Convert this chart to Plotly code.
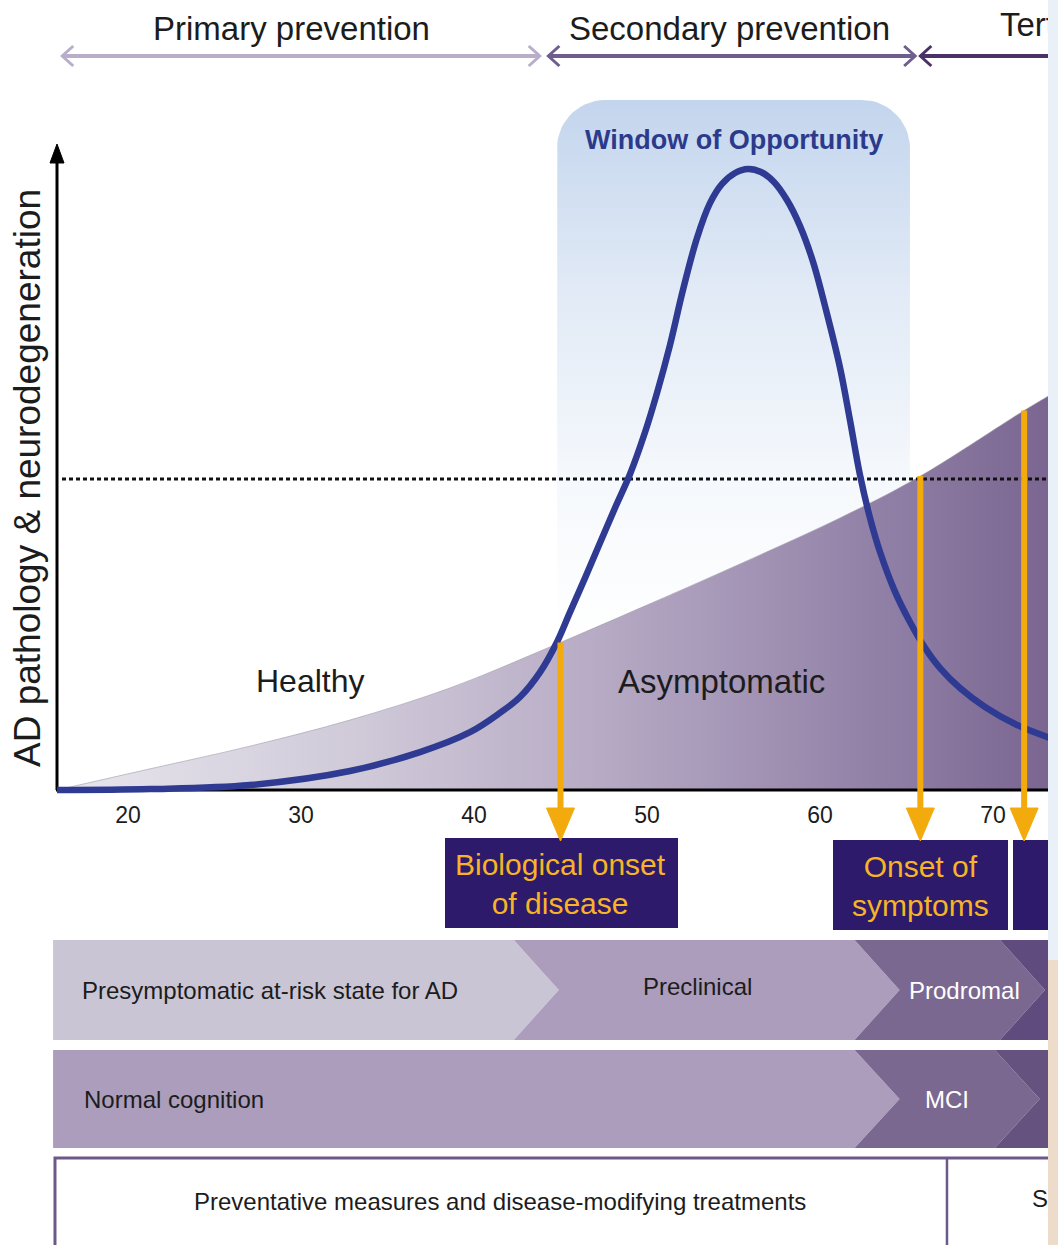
import numpy as np
import plotly.graph_objects as go

# ---------------- data ----------------
AGE_TICKS = [20, 30, 40, 50, 60, 70]

# blue curve (window of opportunity), level relative to threshold = 1
CURVE_AGE = [15.90, 21.27, 27.05, 32.83, 36.88, 39.77, 41.50, 42.66, 43.82, 44.80,
             45.55, 46.42, 47.28, 48.15, 49.02, 49.89, 50.58, 51.33, 52.08, 52.89,
             53.64, 54.34, 55.09, 55.84, 56.59, 57.34, 58.09, 58.84, 59.60, 60.35,
             61.16, 61.73, 62.31, 62.89, 63.47, 64.34, 65.20, 66.07, 66.94, 68.09,
             69.54, 71.39, 73.30]
CURVE_VAL = [0.000, 0.003, 0.016, 0.061, 0.122, 0.186, 0.248, 0.299, 0.379, 0.476,
             0.572, 0.682, 0.794, 0.907, 1.016, 1.151, 1.277, 1.431, 1.608, 1.775,
             1.887, 1.949, 1.984, 1.997, 1.987, 1.955, 1.897, 1.814, 1.698, 1.543,
             1.357, 1.190, 1.013, 0.875, 0.765, 0.637, 0.540, 0.457, 0.392, 0.328,
             0.267, 0.209, 0.167]

# AD pathology & neurodegeneration (purple area)
PATH_AGE = [15.90, 21.27, 27.05, 32.83, 38.61, 44.39, 49.60, 55.38, 61.16, 65.61, 71.85, 73.30]
PATH_VAL = [0.000, 0.068, 0.141, 0.225, 0.328, 0.460, 0.585, 0.727, 0.875, 1.003, 1.222, 1.270]

THRESHOLD = 1.0

EVENT_AGES = [45.0, 65.8, 71.8]
EVENT_LABELS = ["Biological onset<br>of disease", "Onset of<br>symptoms", ""]

PHASES = ["Primary prevention", "Secondary prevention", "Tertiary prevention"]
PHASE_START = [16.2, 44.3, 65.8]
PHASE_END = [43.8, 65.5, 76.0]

ROW1_LABELS = ["Presymptomatic at-risk state for AD", "Preclinical", "Prodromal", ""]
ROW1_EDGES = [15.67, 44.9, 64.6, 73.0, 77.0]
ROW2_LABELS = ["Normal cognition", "MCI", ""]
ROW2_EDGES = [15.67, 64.6, 72.7, 77.0]
ROW3_LABELS = ["Preventative measures and disease-modifying treatments", "Symptomatic treatments"]
ROW3_EDGES = [15.78, 67.34, 77.0]

WINDOW_START, WINDOW_END = 44.8, 65.2

# ---------------- geometry helpers (layout only) ----------------
W, H = 1058, 1245
PX_PER_YEAR = 17.3
AGE_AT_PX0 = 20 - 128 / PX_PER_YEAR
BASE_PY = 790
PX_PER_UNIT = 311.0
CLIP_PX = 1048


def ax(px):
    return AGE_AT_PX0 + px / PX_PER_YEAR


def ly(py):
    return (BASE_PY - py) / PX_PER_UNIT


FONT = "Liberation Sans, Arial, sans-serif"
TXT = "#1c1c1c"

fig = go.Figure()

# window of opportunity box (rounded top corners, vertical gradient)
rx, ry = 48 / PX_PER_YEAR, 48 / PX_PER_UNIT
top = ly(100)
tl = np.linspace(np.pi, np.pi / 2, 16)
tr = np.linspace(np.pi / 2, 0, 16)
wx = ([WINDOW_START, WINDOW_START] + list(WINDOW_START + rx + rx * np.cos(tl)) +
      list(WINDOW_END - rx + rx * np.cos(tr)) + [WINDOW_END, WINDOW_END])
wy = ([0, top - ry] + list(top - ry + ry * np.sin(tl)) +
      list(top - ry + ry * np.sin(tr)) + [top - ry, 0])
fig.add_trace(go.Scatter(
    x=wx, y=wy, mode="lines", fill="toself", line=dict(width=0),
    fillgradient=dict(type="vertical",
                      colorscale=[[0, "#ffffff"], [0.3, "#f5f8fc"], [0.65, "#e1eaf6"], [1, "#c3d5ed"]],
                      start=ly(640), stop=top),
    hoverinfo="skip", showlegend=False))

# pathology area
fig.add_trace(go.Scatter(
    x=PATH_AGE, y=PATH_VAL, mode="lines", fill="tozeroy",
    line=dict(color="rgba(160,155,170,0.6)", width=1, shape="spline", smoothing=1.0),
    fillgradient=dict(type="horizontal",
                      colorscale=[[0, "#e8e6ed"], [0.3, "#d0cad9"], [0.5, "#bcb1c9"],
                                  [0.7, "#a394b5"], [0.85, "#8e7da4"], [1, "#7a6691"]],
                      start=ax(57), stop=ax(1048)),
    hoverinfo="skip", showlegend=False))

# threshold dotted line
fig.add_trace(go.Scatter(
    x=[ax(62), ax(1070)], y=[THRESHOLD, THRESHOLD], mode="lines",
    line=dict(color="#111111", width=3, dash="4px,3px"),
    hoverinfo="skip", showlegend=False))

# axis lines
fig.add_trace(go.Scatter(x=[ax(56), ax(1070)], y=[0, 0], mode="lines",
                         line=dict(color="black", width=3), hoverinfo="skip", showlegend=False))
fig.add_trace(go.Scatter(x=[ax(57), ax(57)], y=[0, ly(158)], mode="lines",
                         line=dict(color="black", width=3), hoverinfo="skip", showlegend=False))
hw = 7 / PX_PER_YEAR
fig.add_trace(go.Scatter(x=[ax(57) - hw, ax(57), ax(57) + hw, ax(57) - hw],
                         y=[ly(163), ly(144), ly(163), ly(163)], mode="lines", fill="toself",
                         fillcolor="black", line=dict(color="black", width=1),
                         hoverinfo="skip", showlegend=False))

# blue curve
fig.add_trace(go.Scatter(
    x=CURVE_AGE, y=CURVE_VAL, mode="lines",
    line=dict(color="#2f3b92", width=6.5, shape="spline", smoothing=1.0),
    hoverinfo="skip", showlegend=False))

# event arrows
ORANGE = "#f3aa0c"
ahw = 14 / PX_PER_YEAR
for e in EVENT_AGES:
    y_top = float(np.interp(e, PATH_AGE, PATH_VAL))
    fig.add_trace(go.Scatter(x=[e, e], y=[y_top, ly(812)], mode="lines",
                             line=dict(color=ORANGE, width=6), hoverinfo="skip", showlegend=False))
    fig.add_trace(go.Scatter(x=[e - ahw, e + ahw, e, e - ahw], y=[ly(808), ly(808), ly(841), ly(808)],
                             mode="lines", fill="toself", fillcolor=ORANGE,
                             line=dict(color=ORANGE, width=1), hoverinfo="skip", showlegend=False))

# texts cut by the right edge of the original picture
fig.add_trace(go.Scatter(x=[ax(1000)], y=[ly(28)], mode="text", text=[PHASES[2]],
                         textposition="middle right",
                         textfont=dict(family=FONT, size=33, color=TXT),
                         hoverinfo="skip", showlegend=False, cliponaxis=True))
fig.add_trace(go.Scatter(x=[ax(1032)], y=[ly(1201)], mode="text", text=[ROW3_LABELS[1]],
                         textposition="middle right",
                         textfont=dict(family=FONT, size=24, color=TXT),
                         hoverinfo="skip", showlegend=False, cliponaxis=True))

shapes = []
annotations = []

# prevention arrows
PHASE_COLORS = ["#b8aeca", "#6f5d8d", "#4a3268"]
ay = ly(56)
dx, dy = 11 / PX_PER_YEAR, 10 / PX_PER_UNIT
for s, e, c in zip(PHASE_START, PHASE_END, PHASE_COLORS):
    shapes.append(dict(type="line", xref="x", yref="y", x0=s, x1=e, y0=ay, y1=ay,
                       line=dict(color=c, width=4), layer="above"))
    shapes.append(dict(type="path", xref="x", yref="y",
                       path=f"M {s+dx},{ay+dy} L {s},{ay} L {s+dx},{ay-dy}",
                       line=dict(color=c, width=3), layer="above"))
    shapes.append(dict(type="path", xref="x", yref="y",
                       path=f"M {e-dx},{ay+dy} L {e},{ay} L {e-dx},{ay-dy}",
                       line=dict(color=c, width=3), layer="above"))
for label, px in zip(PHASES[:2], [291, 729]):
    annotations.append(dict(x=ax(px), y=ly(28), text=label, showarrow=False,
                            font=dict(family=FONT, size=33, color=TXT)))

# event label boxes
EVENT_BOX_PX = [(445, 678, 838, 928), (833, 1008, 840, 930), (1013, 1120, 840, 930)]
for (x0, x1, y0, y1), lab, e in zip(EVENT_BOX_PX, EVENT_LABELS, EVENT_AGES):
    shapes.append(dict(type="rect", xref="x", yref="y", x0=ax(x0), x1=ax(x1), y0=ly(y1), y1=ly(y0),
                       fillcolor="#2d1a6b", line=dict(width=0), layer="below"))
    if lab:
        annotations.append(dict(x=e, y=ly((y0 + y1) / 2 + 1), text=lab, showarrow=False,
                                font=dict(family=FONT, size=30, color="#f6b426")))


def chevron_rows(edges, colors, ytop, ybot, depth=2.6):
    ym = (ytop + ybot) / 2
    out = []
    n = len(edges) - 1
    for i in range(n):
        lt, rt = edges[i], edges[i + 1]
        lb = lt if i == 0 else lt - depth
        ln = lt
        rb = rt if i == n - 1 else rt - depth
        path = (f"M {lb},{ytop} L {rb},{ytop} L {rt},{ym} L {rb},{ybot} "
                f"L {lb},{ybot} L {ln},{ym} Z")
        out.append(dict(type="path", xref="x", yref="y", path=path,
                        fillcolor=colors[i], line=dict(width=0), layer="below"))
    return out


shapes += chevron_rows(ROW1_EDGES, ["#cac5d4", "#ab9dbb", "#7b6891", "#5f4b7d"], ly(940), ly(1040))
shapes += chevron_rows(ROW2_EDGES, ["#ab9dbb", "#7b6891", "#66527f"], ly(1050), ly(1148))

ROW1_TEXT = [(80, 990, "left", TXT), (697, 986, "center", TXT), (964, 990, "center", "white")]
for lab, (px, py, anc, col) in zip(ROW1_LABELS, ROW1_TEXT):
    annotations.append(dict(x=ax(px), y=ly(py), text=lab, showarrow=False, xanchor=anc,
                            font=dict(family=FONT, size=24, color=col)))
ROW2_TEXT = [(82, 1099, "left", TXT), (947, 1099, "center", "white")]
for lab, (px, py, anc, col) in zip(ROW2_LABELS, ROW2_TEXT):
    annotations.append(dict(x=ax(px), y=ly(py), text=lab, showarrow=False, xanchor=anc,
                            font=dict(family=FONT, size=24, color=col)))

# row 3 box
shapes.append(dict(type="rect", xref="x", yref="y", x0=ROW3_EDGES[0], x1=ROW3_EDGES[2],
                   y0=ly(1262), y1=ly(1158), line=dict(color="#6c5889", width=3),
                   fillcolor="rgba(0,0,0,0)", layer="below"))
shapes.append(dict(type="line", xref="x", yref="y", x0=ROW3_EDGES[1], x1=ROW3_EDGES[1],
                   y0=ly(1262), y1=ly(1158), line=dict(color="#6c5889", width=2.5), layer="below"))
annotations.append(dict(x=ax(500), y=ly(1201), text=ROW3_LABELS[0], showarrow=False,
                        font=dict(family=FONT, size=24, color=TXT)))

# chart texts
annotations.append(dict(x=ax(734), y=ly(140), text="<b>Window of Opportunity</b>", showarrow=False,
                        font=dict(family=FONT, size=27, color="#2c3a8c")))
annotations.append(dict(x=ax(310), y=ly(681), text="Healthy", showarrow=False,
                        font=dict(family=FONT, size=32, color=TXT)))
annotations.append(dict(x=ax(721), y=ly(681), text="Asymptomatic", showarrow=False,
                        font=dict(family=FONT, size=33, color=TXT)))
annotations.append(dict(x=ax(27), y=ly(478), text="AD pathology &amp; neurodegeneration",
                        showarrow=False, textangle=-90,
                        font=dict(family=FONT, size=37, color=TXT)))

# right strip (cropped edge of the original picture)
shapes.append(dict(type="rect", xref="paper", yref="paper", x0=CLIP_PX / W, x1=1,
                   y0=(H - 960) / H, y1=1, fillcolor="#e9f0f8", line=dict(width=0), layer="above"))
shapes.append(dict(type="rect", xref="paper", yref="paper", x0=CLIP_PX / W, x1=1,
                   y0=0, y1=(H - 960) / H, fillcolor="#ecdcc9", line=dict(width=0), layer="above"))

fig.update_layout(
    width=W, height=H,
    margin=dict(l=0, r=0, t=0, b=0),
    paper_bgcolor="white", plot_bgcolor="white",
    showlegend=False,
    xaxis=dict(domain=[0, CLIP_PX / W], range=[ax(0), ax(CLIP_PX)],
               anchor="free", position=(H - BASE_PY) / H,
               tickmode="array", tickvals=AGE_TICKS, ticks="",
               showline=False, showgrid=False, zeroline=False,
               ticklabelstandoff=9,
               tickfont=dict(family=FONT, size=23, color=TXT), fixedrange=True),
    yaxis=dict(domain=[0, 1], range=[ly(H), ly(0)], visible=False,
               showgrid=False, zeroline=False, fixedrange=True),
    shapes=shapes,
    annotations=annotations,
)

fig.write_html("out.html", config={"displayModeBar": False},
               post_script="document.body.style.margin='0px';")
